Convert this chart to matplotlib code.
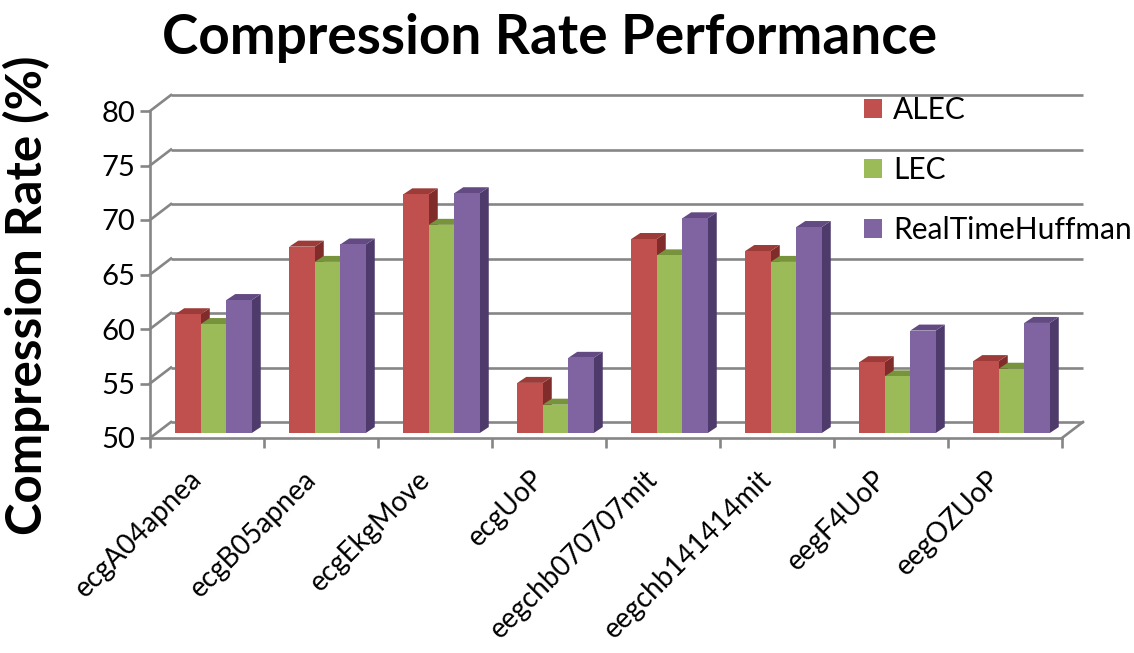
import numpy as np
import matplotlib.pyplot as plt
from matplotlib.patches import Polygon, Patch
from matplotlib.transforms import Affine2D

categories = ['ecgA04apnea', 'ecgB05apnea', 'ecgEkgMove', 'ecgUoP',
              'eegchb070707mit', 'eegchb141414mit', 'eegF4UoP', 'eegOZUoP']
alec = [60.9, 67.1, 71.9, 54.6, 67.8, 66.7, 56.5, 56.6]
lec = [60.0, 65.7, 69.1, 52.6, 66.3, 65.7, 55.2, 55.9]
rth = [62.2, 67.3, 72.0, 56.9, 69.7, 68.9, 59.4, 60.1]
series = ['ALEC', 'LEC', 'RealTimeHuffman']

# front / top / side colours
colors = [('#C0504D', '#9C3B38', '#7F2C2A'),
          ('#9BBB59', '#77933C', '#6A8535'),
          ('#8064A2', '#634A82', '#4F3B6B')]
GRID = '#868686'


def main():
    plt.rcParams['font.family'] = ['Lato', 'DejaVu Sans']
    W, H = 1134, 653
    fig = plt.figure(figsize=(W / 100, H / 100), dpi=100)
    # axes in pixel terms: x 150..1062, y 438..111
    ax = fig.add_axes([150 / W, (H - 438) / H, 912 / W, 327 / H])
    ax.set_xlim(0, 8)
    ax.set_ylim(50, 80)
    ax.patch.set_visible(False)

    px_x = 912 / 8.0   # pixels per category
    px_y = 327 / 30.0  # pixels per value unit
    wall_dx, wall_dy = 21, 16

    yt = np.arange(50, 81, 5)
    # back wall gridlines + left diagonals
    back = ax.transData + Affine2D().translate(wall_dx, wall_dy)
    for v in yt:
        ax.plot([0, 8], [v, v], color=GRID, lw=1.9, transform=back,
                clip_on=False, zorder=1, solid_capstyle='butt')
        ax.plot([0, wall_dx / px_x], [v, v + wall_dy / px_y], color=GRID,
                lw=1.9, clip_on=False, zorder=1)
    # right floor diagonal
    ax.plot([8, 8 + wall_dx / px_x], [50, 50 + wall_dy / px_y], color=GRID,
            lw=1.9, clip_on=False, zorder=1)

    # bars with fake 3D depth
    depth_f = 0.31
    sx, sy = depth_f * wall_dx / px_x, depth_f * wall_dy / px_y
    bdx, bdy = 9 / px_x, 6 / px_y
    bw = 25.5 / px_x
    data = [alec, lec, rth]
    for ci in range(len(categories)):
        x_start = ci + 0.5 - 1.5 * bw + sx
        for si, vals in enumerate(data):
            fc, tc, sc = colors[si]
            x0 = x_start + si * bw
            x1 = x0 + bw
            y0 = 50 + sy
            y1 = vals[ci] + sy
            front = Polygon([(x0, y0), (x1, y0), (x1, y1), (x0, y1)],
                            closed=True, fc=fc, ec='none', zorder=3, clip_on=False)
            top = Polygon([(x0, y1), (x1, y1), (x1 + bdx, y1 + bdy), (x0 + bdx, y1 + bdy)],
                          closed=True, fc=tc, ec='none', zorder=3, clip_on=False)
            side = Polygon([(x1, y0), (x1 + bdx, y0 + bdy), (x1 + bdx, y1 + bdy), (x1, y1)],
                           closed=True, fc=sc, ec='none', zorder=3, clip_on=False)
            ax.add_patch(side)
            ax.add_patch(top)
            ax.add_patch(front)

    # front axes
    for s in ['top', 'right']:
        ax.spines[s].set_visible(False)
    for s in ['left', 'bottom']:
        ax.spines[s].set_color(GRID)
        ax.spines[s].set_linewidth(1.9)
        ax.spines[s].set_zorder(4)
    ax.set_yticks(yt)
    ax.set_yticklabels([str(v) for v in yt], fontsize=21)
    ax.tick_params(axis='y', length=7.5, width=1.9, color=GRID, pad=3)
    ax.set_xticks(np.arange(0, 9))
    ax.set_xticklabels([])
    ax.tick_params(axis='x', which='major', length=7.5, width=1.9, color=GRID)
    ax.set_xticks(np.arange(len(categories)) + 0.5, minor=True)
    ax.set_xticklabels(categories, minor=True, rotation=45, ha='right',
                       va='top', fontsize=20)
    ax.tick_params(axis='x', which='minor', length=0, pad=20)

    ax.set_ylabel('Compression Rate (%)', fontsize=35.5, fontweight='bold')
    ax.yaxis.set_label_coords(-0.11, 0.437)
    fig.text(550 / W, 1 - 38 / H, 'Compression Rate Performance',
             fontsize=39.5, fontweight='bold', ha='center', va='center')

    handles = [Patch(fc=c[0], ec='none') for c in colors]
    fig.legend(handles, series, loc='upper left',
               bbox_to_anchor=(852 / W, 1 - 84 / H), frameon=False,
               fontsize=21.5, handlelength=0.62, handleheight=0.62,
               handletextpad=0.35, labelspacing=1.07, borderaxespad=0)

    fig.savefig('out.png', dpi=100)
    plt.close()


if __name__ == "__main__":
    main()
